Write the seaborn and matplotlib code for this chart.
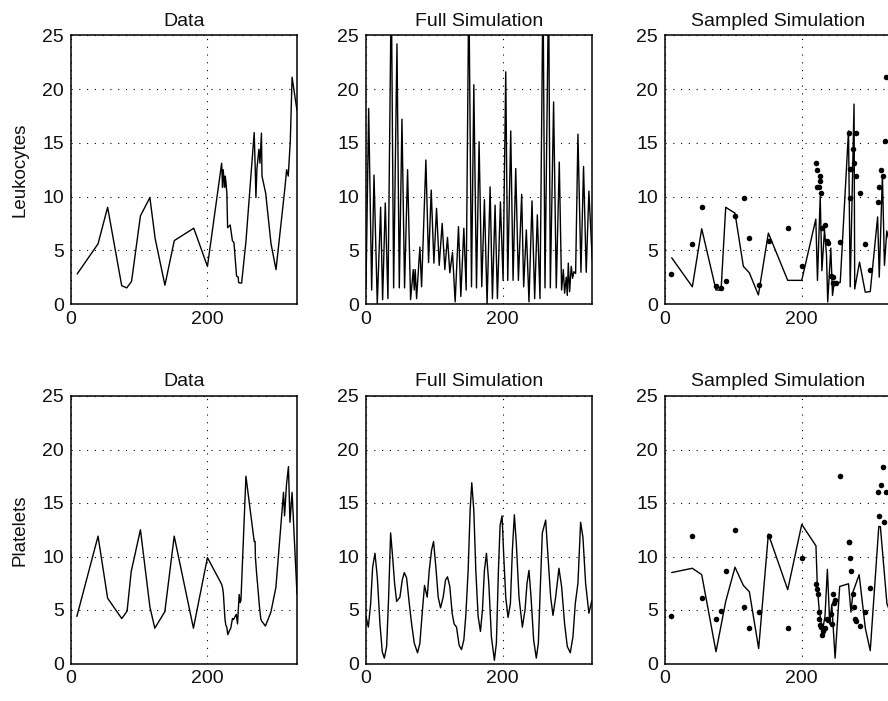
import matplotlib
matplotlib.use("Agg")
import matplotlib.pyplot as plt
import seaborn as sns
import numpy as np

# ---- Leukocytes: measured counts (also shown as dots on the sampled panel)
leuk_days = [9.5, 40, 54, 74.6, 82, 89, 102, 115.8, 123.5, 137.8, 151.5, 180, 200,
             220.8, 222.1, 223, 225.3, 226, 227, 228.4, 229.5, 233.3, 236.5, 238.8,
             242.6, 245, 245.6, 247.5, 250, 256.3, 268.4, 269.9, 270.9, 272.4, 275.3,
             276.8, 279, 279.8, 285.2, 293, 300.3, 311, 313.4, 315.8, 318.2, 321.2,
             323.8, 331]
leuk_counts = [2.8, 5.6, 9.0, 1.7, 1.5, 2.1, 8.2, 9.9, 6.1, 1.75, 5.9, 7.05, 3.5,
               13.1, 10.85, 12.5, 10.85, 11.9, 11.4, 10.3, 7.1, 7.35, 5.9, 5.7,
               2.6, 2.5, 2.0, 1.95, 1.95, 5.8, 15.95, 12.6, 9.9, 12.6, 14.4,
               13.1, 15.9, 11.9, 10.3, 5.6, 3.2, 9.45, 10.85, 12.5, 11.9, 15.15,
               21.1, 18.0]

# ---- Leukocytes: full model trajectory (peaks and troughs)
leuk_full_days = [0, 3.9, 8.3, 11.7, 16.5, 21.4, 24.3, 28.2, 32.1, 37.0, 40.4, 45.3,
                  48.7, 52.6, 56.4, 60.8, 65.2, 69.1, 70.6, 72, 74, 78.8, 81.3, 87.6,
                  91.5, 95.4, 99.3, 103.2, 107.1, 111.4, 115.3, 119.2, 122.6, 126.5,
                  130.4, 135.3, 138.7, 143.1, 146.5, 150.4, 154.3, 157.7, 161.6, 165.4,
                  169.3, 173.2, 177.1, 181.5, 184.9, 188.8, 192.2, 196.6, 200.5, 204.4,
                  207.3, 211.7, 215.1, 219, 222.9, 227.7, 230.6, 234.5, 238.4, 242.8,
                  246.7, 250.6, 254.5, 258.9, 261.8, 267.1, 269.6, 274.4, 278.3, 282.7,
                  286.1, 288.6, 290.5, 292.9, 294.4, 295.9, 297.8, 300.2, 302.2, 304.1,
                  306.6, 310, 314.4, 318.2, 322.1, 326, 331]
leuk_full_counts = [1.6, 18.2, 1.3, 12.0, 0.0, 9.0, 0.4, 9.4, 0.5, 30.0, 1.5, 24.2,
                    1.5, 17.2, 1.5, 12.5, 0.4, 3.2, 1.3, 3.2, 0.5, 5.3, 1.6, 13.4,
                    3.85, 10.6, 3.8, 8.9, 3.6, 7.5, 3.2, 6.2, 2.9, 4.8,
                    0.2, 7.2, 0.7, 7.05, 1.3, 30.0, 1.6, 20.4, 1.5, 15.1,
                    1.6, 9.7, 0.0, 10.9, 0.5, 9.2, 0.5, 9.5, 2.2, 21.6,
                    2.2, 16.1, 2.2, 12.6, 2.2, 10.2, 1.6, 6.9, 0.2, 9.6,
                    0.5, 8.3, 0.5, 30.0, 1.5, 30.0, 1.5, 18.8, 1.5, 13.2,
                    1.3, 3.2, 1.0, 2.5, 0.8, 3.8, 1.15, 3.5, 2.4, 3.0,
                    2.85, 15.8, 2.95, 12.8, 2.95, 10.5, 4.0]

# ---- Leukocytes: model evaluated at the sampling days
leuk_samp_days = [9.8, 40, 53.7, 74.6, 82, 88.8, 102.4, 114.6, 123.4, 136.6, 151.2,
                  179.5, 200, 220.6, 223, 227, 229.5, 233.3, 236.2, 238, 242.5, 245,
                  247.5, 250, 256.3, 268.4, 270.9, 276.5, 277.5, 284.5, 292.9, 300.2,
                  311, 313.4, 318, 321, 324.4, 331]
leuk_samp_counts = [4.3, 1.6, 7.0, 1.3, 1.3, 9.0, 8.45, 3.5, 2.9, 0.84, 6.6,
                    2.2, 2.2, 7.9, 2.2, 10.0, 3.1, 6.9, 4.6, 0.2, 5.2, 0.8,
                    2.0, 2.0, 2.0, 16.1, 1.6, 18.6, 1.4, 3.9, 1.1, 1.15,
                    8.1, 2.5, 12.0, 3.6, 6.8, 5.0]

# ---- Platelets: measured counts
plt_days = [9, 40, 54, 74.7, 82.5, 88.5, 102, 115.8, 123, 137.7, 151.4, 179.5, 200,
            220.8, 222.4, 223.4, 225, 225.6, 226.8, 228.3, 229.8, 231.7, 234.1, 236.6,
            238, 242.2, 244, 246.4, 247.8, 249, 256.3, 268.4, 269.7, 270.2, 271.7,
            274.6, 276.1, 278, 279, 284.8, 292.8, 300.1, 311.3, 312.8, 315.6, 318.5,
            320.7, 323.8, 331]
plt_counts = [4.4, 11.9, 6.1, 4.2, 4.9, 8.6, 12.5, 5.3, 3.3, 4.85, 11.9, 3.3, 9.9,
              7.4, 7.0, 6.45, 4.8, 4.2, 3.6, 3.4, 2.7, 3.0, 3.3, 4.2,
              4.1, 4.6, 3.7, 6.45, 5.7, 5.9, 17.5, 11.4, 11.4, 9.9, 8.6,
              6.45, 5.3, 4.2, 4.0, 3.5, 4.8, 7.1, 16.0, 13.8, 16.7, 18.4,
              13.2, 16.0, 6.5]

# ---- Platelets: full model trajectory
plt_full_days = [0, 3.4, 6.8, 9.7, 13.1, 16.5, 20.4, 23.8, 26.8, 30.2, 33.1, 36, 38.9,
                 41.8, 44.8, 49.6, 53, 56, 59.4, 63.3, 66.7, 70.6, 75.4, 78.8, 82.2,
                 85.6, 89.5, 92.5, 95.9, 98.8, 102.2, 105.6, 109, 112.9, 116.3, 119.2,
                 122.6, 126, 128.9, 132.4, 136.2, 139.7, 143.1, 146, 149.4, 152.3,
                 154.7, 157.7, 160.6, 164, 167.4, 170.3, 173.2, 176.2, 179.6, 183.4,
                 187.8, 190.7, 193.7, 196.1, 199, 201.5, 204.4, 207.8, 211.2, 214.1,
                 217, 219.9, 223.8, 228.7, 232.6, 235.5, 238.4, 241.4, 245.2, 249.1,
                 252.1, 255, 257.9, 262.8, 266.2, 270.1, 273.5, 277.4, 282.2, 286.1,
                 290.5, 294.4, 298.8, 302.7, 306.1, 310, 313.9, 317.3, 321.2, 326,
                 330.4]
plt_full_counts = [4.4, 3.4, 5.6, 9.0, 10.3, 8.1, 3.7, 1.1, 0.5, 1.6, 6.2, 12.2, 10.0,
                   7.5, 5.8, 6.2, 7.8, 8.5, 8.0, 5.6, 3.7, 1.9, 1.0, 1.9, 4.7,
                   7.3, 6.2, 8.7, 10.6, 11.4, 9.0, 6.2, 5.2, 6.2, 7.8, 8.1,
                   7.2, 4.7, 3.7, 3.4, 1.7, 1.3, 2.2, 4.5, 8.7, 14.3,
                   16.9, 14.3, 8.7, 4.4, 3.0, 5.0, 8.7, 10.3, 7.5, 2.5,
                   0.3, 1.9, 8.7, 12.9, 13.8, 10.0, 6.2, 4.3, 5.6, 10.6,
                   13.9, 11.2, 6.2, 3.4, 5.0, 7.5, 8.7, 6.2, 2.2, 0.5,
                   1.9, 7.2, 12.2, 13.4, 10.0, 6.2, 4.5, 6.2, 8.9, 7.2,
                   3.7, 1.6, 1.0, 2.5, 5.6, 7.5, 13.2, 11.8, 7.5, 4.7,
                   5.9]

# ---- Platelets: model evaluated at the sampling days
plt_samp_days = [9.8, 40, 53.7, 74.6, 88.8, 102.4, 114.6, 123.4, 137, 151.2, 179.5,
                 200, 220.8, 222.8, 225.5, 228.5, 231, 234, 237.5, 241, 244, 248.8,
                 255.5, 268.4, 272, 275, 284, 293, 300.2, 312.7, 315, 324.6, 331]
plt_samp_counts = [8.5, 8.9, 8.3, 1.1, 5.8, 9.0, 7.3, 6.7, 1.4, 12.1, 6.9,
                   13.0, 11.0, 7.2, 5.0, 3.8, 3.3, 4.4, 8.8, 3.7, 5.5, 0.5,
                   7.2, 7.45, 4.8, 6.7, 8.3, 3.3, 1.2, 12.8, 12.8, 5.6, 4.5]

row_labels = ["Leukocytes", "Platelets"]
col_titles = ["Data", "Full Simulation", "Sampled Simulation"]
x_ticks = [0, 200]
y_ticks = [0, 5, 10, 15, 20, 25]

sns.set_theme(style="white")
plt.rcParams["font.family"] = ["Liberation Sans", "DejaVu Sans"]
plt.rcParams["axes.edgecolor"] = "black"

fig = plt.figure(figsize=(8.88, 7.01), dpi=100)

W, H = 888.0, 701.0
col_left = [70.7, 366.0, 665.0]
ax_w = 226.3
row_top = [35.3, 396.0]
row_bot = [304.0, 663.5]

series = [
    (leuk_days, leuk_counts, leuk_full_days, leuk_full_counts, leuk_samp_days, leuk_samp_counts),
    (plt_days, plt_counts, plt_full_days, plt_full_counts, plt_samp_days, plt_samp_counts),
]

for r in range(2):
    d_x, d_y, f_x, f_y, s_x, s_y = series[r]
    for c in range(3):
        left = col_left[c] / W
        bottom = 1 - row_bot[r] / H
        height = (row_bot[r] - row_top[r]) / H
        ax = fig.add_axes([left, bottom, ax_w / W, height])
        if c == 0:
            sns.lineplot(x=d_x, y=d_y, ax=ax, color="black", lw=1.0,
                         sort=False, estimator=None)
        elif c == 1:
            sns.lineplot(x=f_x, y=f_y, ax=ax, color="black", lw=1.0,
                         sort=False, estimator=None)
        else:
            sns.lineplot(x=s_x, y=s_y, ax=ax, color="black", lw=1.0,
                         sort=False, estimator=None)
            sns.scatterplot(x=d_x, y=d_y, ax=ax, color="black", s=16,
                            linewidth=0, zorder=3)
        ax.set_xlim(0, 331)
        ax.set_ylim(0, 25)
        ax.set_xticks(x_ticks)
        ax.set_yticks(y_ticks)
        ax.tick_params(axis="both", labelsize=14, direction="in", length=3,
                       width=0.8, color="black", labelcolor="#111111", pad=5)
        ax.grid(True, linestyle=(0, (1, 6)), color="black", linewidth=0.8)
        for sp in ax.spines.values():
            sp.set_visible(True)
            sp.set_color("black")
            sp.set_linewidth(1.1)
        ax.set_title(col_titles[c], fontsize=14, pad=7, color="#111111")
        ax.set_xlabel("")
        if c == 0:
            ax.set_ylabel(row_labels[r], fontsize=13.5, labelpad=10, color="#111111")
        else:
            ax.set_ylabel("")

fig.savefig("out.png", dpi=100)
